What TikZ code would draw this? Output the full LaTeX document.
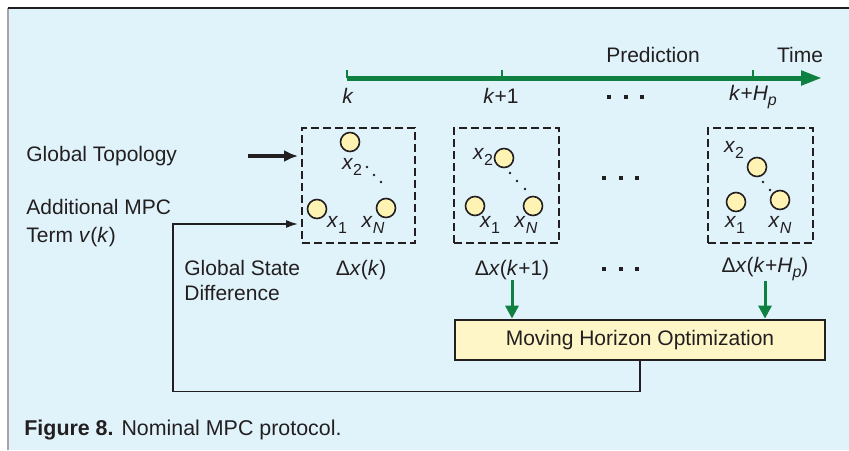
\documentclass[tikz,border=0pt]{standalone}
\usepackage{fontspec}
\setmainfont{Liberation Sans}
\usetikzlibrary{arrows.meta, positioning}
\definecolor{panelblue}{HTML}{E0F3FB}
\definecolor{axisgreen}{HTML}{0E8040}
\definecolor{agentyellow}{HTML}{FFF3B4}
\definecolor{optyellow}{HTML}{FFF6C8}
\definecolor{inkgray}{HTML}{231F20}
\newcommand{\xsub}[1]{\textit{x}\raisebox{-0.5ex}{\footnotesize #1}}

\begin{document}
\begin{tikzpicture}[x=0.5pt, y=-0.5pt,
  every node/.style={font=\fontsize{10.5}{13}\selectfont, text=inkgray, inner sep=0pt},
  statebox/.style={draw=inkgray, line width=1pt, dash pattern=on 4pt off 2pt, minimum height=57.5pt},
  agent/.style={circle, draw=inkgray, line width=0.8pt, fill=agentyellow, minimum size=9.5pt},
  greenarrow/.style={draw=axisgreen, line width=1.5pt, -{Triangle[length=6.5pt,width=6.5pt]}}]
\useasboundingbox (0,0) rectangle (849,450);
% Panel
\fill[panelblue] (8,8) rectangle (849,450);
\draw[gray!70, line width=1pt] (8,8) -- (8,450);
\draw[inkgray, line width=1pt] (8,8) -- (849,8);
% Time axis
\coordinate (t0) at (347,78);
\coordinate (t1) at (502,78);
\coordinate (tH) at (753,78);
\coordinate (tend) at (822,78);
\draw[axisgreen, line width=2.5pt, -{Triangle[length=10.5pt,width=7pt]}] (t0) -- (tend);
\foreach \t in {t0,t1,tH} \draw[axisgreen, line width=1pt] (\t) -- ++(0,-8);
\node (predlbl) at (653,55) {Prediction};
\node (timelbl) at (800,55) {Time};
\node (lk) at (348,96) {\textit{k}};
\node (lk1) at (501,96) {\textit{k}+1};
\node (lkH) at (753,97) {\textit{k}+\textit{H}\raisebox{-0.5ex}{\footnotesize\textit{p}}};
% Ellipses
\foreach \y/\x in {97/609, 178/604, 269/604}
  \foreach \i in {0,1,2}
    \fill[inkgray] (\x+\i*16.5,\y) +(-2,-2) rectangle +(2,2);
% State boxes
\node[statebox, minimum width=56.5pt] (s0) at (358.5,185.5) {};
\node[statebox, minimum width=52.5pt] (s1) at (506.5,185.5) {};
\node[statebox, minimum width=52.5pt] (sH) at (760.5,185.5) {};
% Agents at k
\node[agent] (s0a2) at (350,142) {};
\node[agent] (s0a1) at (317,209) {};
\node[agent] (s0aN) at (386,208) {};
\node (s0l2) at (352,167) {\xsub{2}};
\node (s0l1) at (337,225) {\xsub{1}};
\node (s0lN) at (373,225) {\xsub{\textit{N}}};
\foreach \p in {(367,167),(374,175),(381,182)} \fill[inkgray] \p circle (1.3);
% Agents at k+1
\node[agent] (s1a2) at (504,158) {};
\node[agent] (s1a1) at (475,206) {};
\node[agent] (s1aN) at (533,206) {};
\node (s1l2) at (483,157) {\xsub{2}};
\node (s1l1) at (490,225) {\xsub{1}};
\node (s1lN) at (526,225) {\xsub{\textit{N}}};
\foreach \p in {(510,173),(517,181),(525,189)} \fill[inkgray] \p circle (1.3);
% Agents at k+Hp
\node[agent] (sHa2) at (757,167) {};
\node[agent] (sHa1) at (736,202) {};
\node[agent] (sHaN) at (780,200) {};
\node (sHl2) at (734,150) {\xsub{2}};
\node (sHl1) at (735,225) {\xsub{1}};
\node (sHlN) at (780,225) {\xsub{\textit{N}}};
\foreach \p in {(763,182),(770,190)} \fill[inkgray] \p circle (1.3);
% State differences
\node (dx0) at (361,270) {Δ\textit{x}(\textit{k})};
\node (dx1) at (512,270) {Δ\textit{x}(\textit{k}+1)};
\node (dxH) at (765,269) {Δ\textit{x}(\textit{k}+\textit{H}\raisebox{-0.5ex}{\footnotesize\textit{p}})};
% Inputs
\node[anchor=west] (gtopo) at (26,156) {Global Topology};
\node[anchor=west, align=left, font=\fontsize{10.5}{14}\selectfont] (mpcterm) at (26,223) {Additional MPC\\Term \textit{v}(\textit{k})};
\node[anchor=west, align=left, font=\fontsize{10.5}{12.5}\selectfont] (gsd) at (184,280) {Global State\\Difference};
\coordinate (gtin) at (298,156);
\coordinate (fbin) at (298,224);
\draw[inkgray, line width=1.6pt, -{Latex[length=7pt,width=6pt]}] ([xshift=-25pt]gtin) -- (gtin);
% Optimization
\node[draw=inkgray, line width=1.4pt, fill=optyellow, minimum width=185pt, minimum height=20pt] (mho) at (640,340) {Moving Horizon Optimization};
\draw[greenarrow] (dx1.south) -- (dx1.south |- mho.north);
\draw[greenarrow] (dxH.south) -- (dxH.south |- mho.north);
\draw[inkgray, line width=0.8pt, -{Latex[length=6pt,width=4pt]}] (mho.south) -- ++(0,30) -| ([xshift=-62.5pt]fbin) -- (fbin);
% Caption
\node[anchor=west, font=\fontsize{10.7}{13}\selectfont] (caption) at (24,430) {\textbf{Figure 8.} Nominal MPC protocol.};
\end{tikzpicture}
\end{document}
